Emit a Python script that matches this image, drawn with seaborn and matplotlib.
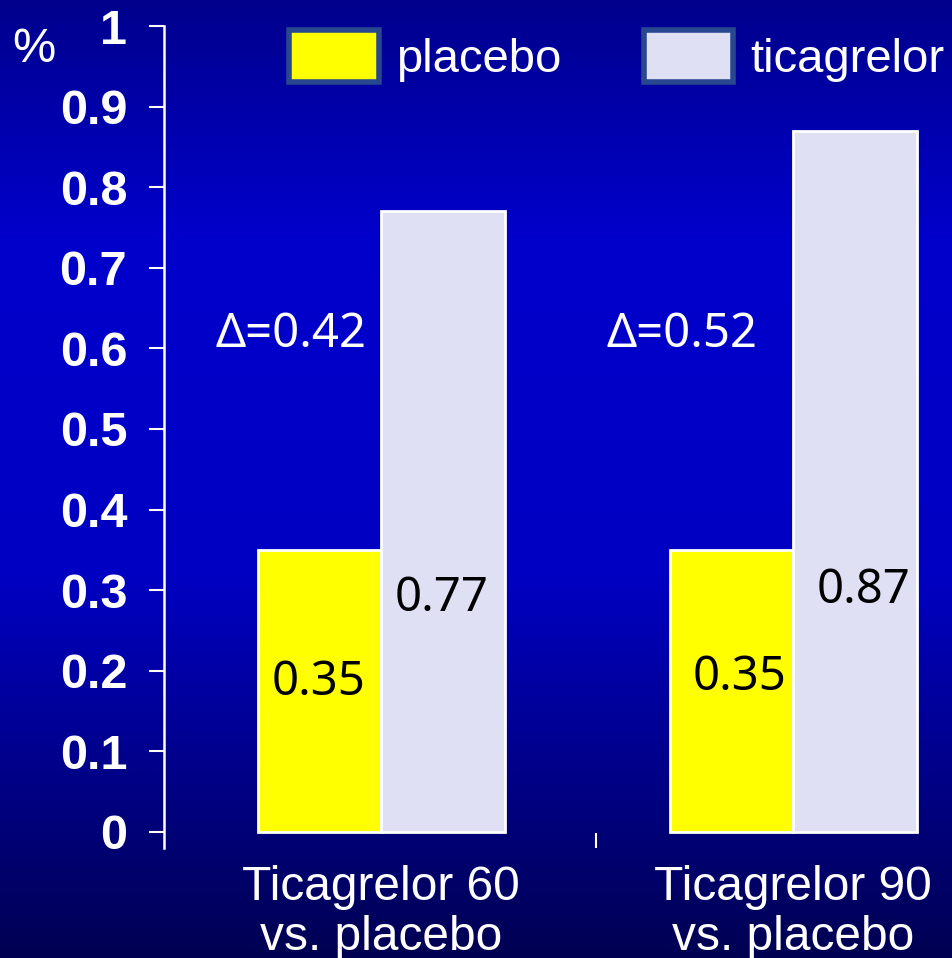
import numpy as np
import pandas as pd
import matplotlib
matplotlib.use("Agg")
import matplotlib.pyplot as plt
from matplotlib.patches import Patch
import seaborn as sns

# Data
groups = ["Ticagrelor 60\nvs. placebo", "Ticagrelor 90\nvs. placebo"]
placebo = [0.35, 0.35]
ticagrelor = [0.77, 0.87]
series = ["placebo", "ticagrelor"]
y_ticks = [0, 0.1, 0.2, 0.3, 0.4, 0.5, 0.6, 0.7, 0.8, 0.9, 1]
y_tick_labels = ["0", "0.1", "0.2", "0.3", "0.4", "0.5", "0.6", "0.7", "0.8", "0.9", "1"]

df = pd.DataFrame({
    "group": groups * 2,
    "arm": ["placebo"] * len(groups) + ["ticagrelor"] * len(groups),
    "value": placebo + ticagrelor,
})

colors = {"placebo": "#ffff00", "ticagrelor": "#e0e0f4"}

sns.set_theme(style="white")
plt.rcParams["font.family"] = ["Liberation Sans", "DejaVu Sans"]

fig = plt.figure(figsize=(9.53, 9.58), dpi=100)

# Slide-style vertical blue gradient behind everything
bg = fig.add_axes([0, 0, 1, 1], zorder=-10)
stops_pos = [0.0, 0.25, 0.6, 1.0]
stops_blue = [0x8c, 0xcc, 0xc2, 0x52]
t = np.linspace(0, 1, 512)
blue = np.interp(t, stops_pos, stops_blue) / 255.0
img = np.zeros((512, 1, 3))
img[:, 0, 2] = blue
bg.imshow(img, aspect="auto", extent=[0, 1, 0, 1], origin="upper")
bg.set_axis_off()

W, H = 953, 958
ax_left, ax_right = 164, 953
ax_top, ax_bottom = 26, 848
ax = fig.add_axes([ax_left / W, 1 - ax_bottom / H, (ax_right - ax_left) / W, (ax_bottom - ax_top) / H])
ax.patch.set_alpha(0)

sns.barplot(data=df, x="group", y="value", hue="arm", palette=colors,
            width=0.6, gap=0, edgecolor="white", linewidth=2,
            saturation=1, legend=False, ax=ax)

ax.set_xlim(-0.527, 1.388)
ax.set_ylim(-0.02, 1.0)

# Spines: only the left axis line, white
for s in ["top", "right", "bottom"]:
    ax.spines[s].set_visible(False)
ax.spines["left"].set_color("white")
ax.spines["left"].set_linewidth(1.8)

ax.set_yticks(y_ticks)
ax.set_yticklabels(y_tick_labels, fontsize=35, fontweight="bold", color="white")
ax.tick_params(axis="y", which="major", direction="out", length=10.5, width=1.5,
               color="white", pad=16, left=True)

ax.set_xticks([0, 1])
ax.set_xticklabels(groups, fontsize=34.5, color="white", linespacing=1.15)
ax.tick_params(axis="x", which="major", length=0, pad=12)
ax.set_xticks([0.522], minor=True)
ax.tick_params(axis="x", which="minor", direction="in", length=10.8, width=1.5,
               color="white", bottom=True)
ax.set_xlabel("")
ax.set_ylabel("")

# Unit label
fig.text(34 / W, 1 - 50 / H, "%", fontsize=35, color="white", ha="center", va="center")

# Value labels inside bars, and the difference above
num_font = ["Noto Sans", "DejaVu Sans"]
pl_label_x = [-0.153, -0.131]
pl_label_y = [0.185, 0.192]
tc_label_x = [0.148, 0.17]
tc_label_y = [0.29, 0.30]
delta_x = [-0.218, -0.27]
delta_y = 0.617
for i in range(len(groups)):
    ax.text(i + pl_label_x[i], pl_label_y[i], f"{placebo[i]:.2f}", fontsize=34, color="black",
            ha="center", va="center", family=num_font)
    ax.text(i + tc_label_x[i], tc_label_y[i], f"{ticagrelor[i]:.2f}", fontsize=34, color="black",
            ha="center", va="center", family=num_font)
    ax.text(i + delta_x[i], delta_y, f"\u0394={ticagrelor[i] - placebo[i]:.2f}", fontsize=34,
            color="white", ha="center", va="center", family=num_font)

# Legend
handles = [Patch(facecolor=colors[s], edgecolor="#27478f", linewidth=4, label=s) for s in series]
fig.legend(handles=handles, loc="center left", bbox_to_anchor=(289 / W, 1 - 56 / H),
           ncol=2, frameon=False, fontsize=34, labelcolor="white",
           handlelength=1.9, handleheight=1.32, handletextpad=0.36, columnspacing=1.75,
           borderpad=0, borderaxespad=0)

fig.savefig("out.png", dpi=100)
